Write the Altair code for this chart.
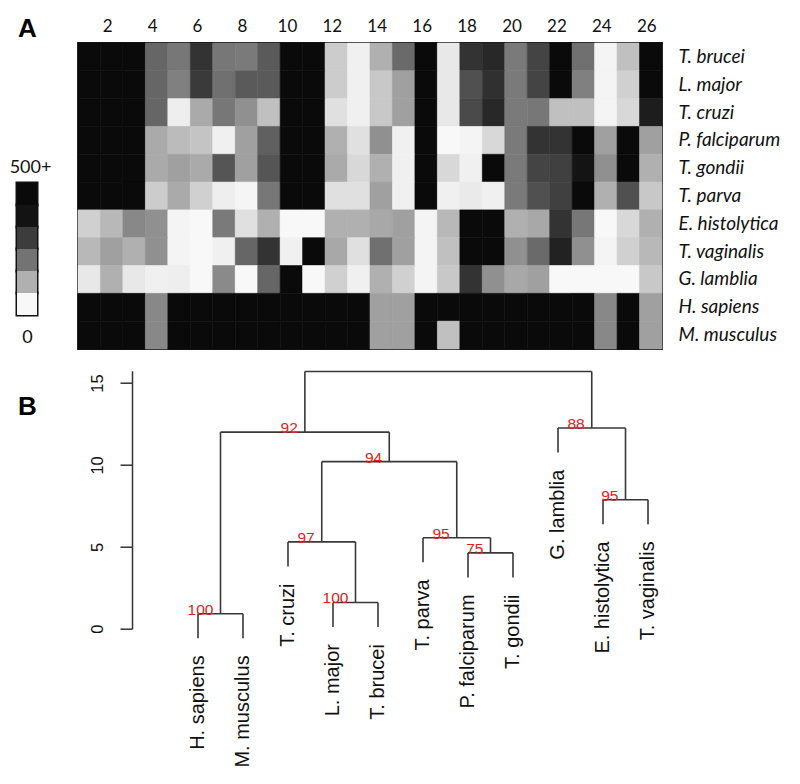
import altair as alt
import pandas as pd

# ---------------- Panel A: heatmap data ----------------
species = ["T. brucei", "L. major", "T. cruzi", "P. falciparum", "T. gondii", "T. parva",
           "E. histolytica", "T. vaginalis", "G. lamblia", "H. sapiens", "M. musculus"]
column_numbers = list(range(1, 27))
column_tick_labels = [2, 4, 6, 8, 10, 12, 14, 16, 18, 20, 22, 24, 26]

counts_t_brucei = [500, 500, 500, 307, 271, 414, 271, 265, 332, 500, 500, 92, 17, 151, 298, 500, 34, 414, 437, 265, 378, 500, 286, 8, 118, 500]
counts_l_major = [500, 500, 500, 307, 252, 400, 286, 332, 332, 500, 500, 92, 17, 101, 185, 500, 34, 353, 420, 265, 378, 500, 252, 8, 84, 500]
counts_t_cruzi = [500, 500, 500, 307, 21, 164, 271, 218, 118, 500, 500, 50, 17, 101, 185, 500, 34, 365, 437, 265, 271, 118, 118, 8, 67, 460]
counts_p_falciparum = [500, 500, 500, 164, 128, 109, 17, 185, 319, 500, 500, 151, 50, 218, 17, 500, 0, 8, 67, 265, 414, 414, 500, 185, 500, 185]
counts_t_gondii = [500, 500, 500, 164, 185, 164, 342, 185, 342, 500, 500, 164, 67, 151, 17, 500, 67, 17, 500, 265, 378, 387, 480, 218, 500, 151]
counts_t_parva = [500, 500, 500, 92, 164, 84, 21, 6, 271, 500, 500, 50, 50, 185, 17, 500, 17, 29, 17, 265, 353, 387, 500, 151, 353, 101]
counts_e_histolytica = [84, 134, 235, 218, 8, 0, 265, 50, 151, 0, 0, 151, 151, 168, 185, 8, 134, 500, 500, 151, 168, 414, 271, 0, 67, 151]
counts_t_vaginalis = [134, 185, 151, 218, 8, 0, 17, 307, 414, 17, 500, 168, 50, 286, 185, 8, 118, 500, 500, 218, 298, 450, 218, 8, 84, 134]
counts_g_lamblia = [34, 151, 34, 17, 21, 0, 231, 0, 307, 500, 0, 84, 17, 151, 84, 8, 101, 414, 218, 168, 185, 0, 0, 0, 0, 101]
counts_h_sapiens = [500, 500, 500, 235, 500, 500, 500, 500, 500, 500, 500, 500, 500, 185, 185, 500, 500, 500, 500, 500, 500, 500, 500, 235, 500, 185]
counts_m_musculus = [500, 500, 500, 235, 500, 500, 500, 500, 500, 500, 500, 500, 500, 185, 185, 500, 118, 500, 500, 500, 500, 500, 500, 235, 500, 185]

count_rows = [counts_t_brucei, counts_l_major, counts_t_cruzi, counts_p_falciparum, counts_t_gondii,
              counts_t_parva, counts_e_histolytica, counts_t_vaginalis, counts_g_lamblia,
              counts_h_sapiens, counts_m_musculus]

# colour key
legend_levels = ["500+", "400", "300", "200", "100", "0"]
legend_colors = ["#0a0a0a", "#131313", "#3c3c3c", "#737373", "#b0b0b0", "#f8f8f8"]

# ---------------- Panel B: dendrogram data ----------------
leaf_names = ["H. sapiens", "M. musculus", "T. cruzi", "L. major", "T. brucei", "T. parva",
              "P. falciparum", "T. gondii", "G. lamblia", "E. histolytica", "T. vaginalis"]
leaf_positions = [1, 2, 3, 4, 5, 6, 7, 8, 9, 10, 11]
merge_left = [-1, -4, -7, -3, -6, -10, 4, 1, -9, 8]
merge_right = [-2, -5, -8, 2, 3, -11, 5, 7, 6, 9]
merge_height = [0.91, 1.6, 4.63, 5.3, 5.55, 7.87, 10.2, 12.0, 12.25, 15.7]
merge_support = [100, 100, 75, 97, 95, 95, 94, 92, 88, None]
hang = 1.5
y_ticks = [0, 5, 10, 15]

# ---------------- build tables ----------------
heat_records = []
for sp, row in zip(species, count_rows):
    for col, val in zip(column_numbers, row):
        heat_records.append({"species": sp, "column": col, "count": val})
heat_df = pd.DataFrame(heat_records)

seg_records, node_x, leaf_bottom = [], [], {}
for k in range(len(merge_left)):
    h = merge_height[k]
    xs = []
    for c in (merge_left[k], merge_right[k]):
        if c < 0:
            cx = leaf_positions[-c - 1]
            bottom = h - hang
            leaf_bottom[-c - 1] = bottom
        else:
            cx = node_x[c - 1]
            bottom = merge_height[c - 1]
        seg_records.append({"x": cx, "y": bottom, "x2": cx, "y2": h})
        xs.append(cx)
    seg_records.append({"x": xs[0], "y": h, "x2": xs[1], "y2": h})
    node_x.append((xs[0] + xs[1]) / 2)
seg_df = pd.DataFrame(seg_records)

boot_df = pd.DataFrame([{"x": node_x[k], "y": merge_height[k], "label": str(merge_support[k])}
                        for k in range(len(merge_support)) if merge_support[k] is not None])
leaf_df = pd.DataFrame([{"x": leaf_positions[i], "y": leaf_bottom[i], "name": leaf_names[i]}
                        for i in range(len(leaf_names))])
legend_df = pd.DataFrame({"level": legend_levels})

# ---------------- colour key ----------------
key_base = alt.Chart(legend_df).encode(
    y=alt.Y("level:N", sort=legend_levels,
            scale=alt.Scale(range=[140, 272], paddingInner=0, paddingOuter=0), axis=None)
)
key_frame = key_base.mark_rect(fill="#111111", stroke="#111111", strokeWidth=3)
key_fill = key_base.mark_rect().encode(
    color=alt.Color("level:N", legend=None,
                    scale=alt.Scale(domain=legend_levels, range=legend_colors)))
key_top = key_base.mark_text(font="Lato", fontSize=18, dx=3.5, dy=-21, baseline="alphabetic",
                             color="#111111").encode(text="level:N").transform_filter(
    alt.datum.level == legend_levels[0])
key_bottom = key_base.mark_text(font="Lato", fontSize=18, dx=0.5, dy=39, baseline="alphabetic",
                                color="#111111").encode(text="level:N").transform_filter(
    alt.datum.level == legend_levels[-1])
key = alt.layer(key_frame, key_fill, key_top, key_bottom).properties(
    width=20, height=306, view=alt.ViewBackground(stroke="transparent", strokeWidth=0))

# ---------------- heatmap ----------------
heat_scale = alt.Scale(domain=[0, 500], range=["#f8f8f8", "#0a0a0a"], interpolate="rgb", clamp=True)
heat = alt.Chart(heat_df).mark_rect(strokeWidth=0.6).encode(
    x=alt.X("column:O", sort=column_numbers,
            scale=alt.Scale(paddingInner=0, paddingOuter=0),
            axis=alt.Axis(orient="top", values=column_tick_labels, ticks=False, domain=False,
                          labelAngle=0, labelFont="Lato", labelFontSize=17, labelColor="#111111",
                          labelPadding=8, labelOffset=-4,
                          title="A", titleFont="Liberation Sans", titleFontSize=26,
                          titleFontWeight="bold", titleColor="#000000", titleAngle=0,
                          titleAlign="center", titleBaseline="alphabetic", titleX=-51, titleY=-7)),
    y=alt.Y("species:N", sort=species,
            scale=alt.Scale(paddingInner=0, paddingOuter=0),
            axis=alt.Axis(orient="right", ticks=False, domain=False, title=None,
                          labelFont="Lato", labelFontStyle="italic", labelFontSize=19,
                          labelColor="#111111", labelPadding=16)),
    color=alt.Color("count:Q", legend=None, scale=heat_scale),
    stroke=alt.Stroke("count:Q", legend=None, scale=heat_scale),
).properties(width=584, height=306,
             view=alt.ViewBackground(stroke="#151515", strokeWidth=1.8))

top_row = alt.hconcat(key, heat, spacing=41, bounds="flush")

# ---------------- dendrogram ----------------
xscale = alt.Scale(domain=[-3.022, 11.311], nice=False, zero=False)
yscale = alt.Scale(domain=[0, 15.75], nice=False, zero=False)

branches = alt.Chart(seg_df).mark_rule(color="#383838", strokeWidth=1.6).encode(
    x=alt.X("x:Q", scale=xscale, axis=None),
    y=alt.Y("y:Q", scale=yscale,
            axis=alt.Axis(values=y_ticks, offset=-115, grid=False, tickSize=12, tickWidth=1.5,
                          tickColor="#333333", domainColor="#333333", domainWidth=1.5,
                          labelAngle=270, labelAlign="center", labelBaseline="bottom",
                          labelPadding=14.5, labelFont="Liberation Sans", labelFontSize=16.5,
                          labelColor="#111111",
                          title="B", titleFont="Liberation Sans", titleFontSize=26,
                          titleFontWeight="bold", titleColor="#000000", titleAngle=0,
                          titleAlign="center", titleBaseline="middle", titleX=-105, titleY=36)),
    x2="x2:Q", y2="y2:Q",
)
boots = alt.Chart(boot_df).mark_text(align="right", baseline="alphabetic", dx=-7, dy=1,
                                     font="Liberation Sans", fontSize=15.5, color="#dd2222").encode(
    x=alt.X("x:Q", scale=xscale), y=alt.Y("y:Q", scale=yscale), text="label:N")
leaves = alt.Chart(leaf_df).mark_text(angle=270, align="right", baseline="middle", dx=-17,
                                      font="Liberation Sans", fontSize=20, color="#111111").encode(
    x=alt.X("x:Q", scale=xscale), y=alt.Y("y:Q", scale=yscale), text="name:N")
dendro = alt.layer(branches, boots, leaves).properties(
    width=645, height=258, view=alt.ViewBackground(stroke="transparent", strokeWidth=0))

chart = alt.vconcat(top_row, dendro, spacing=19.7).properties(
    padding={"left": 1, "top": 6, "right": 2, "bottom": 2}
).configure_view(stroke="transparent").configure(font="Liberation Sans")

chart.save("out.html", embed_options={"renderer": "svg", "actions": False})
